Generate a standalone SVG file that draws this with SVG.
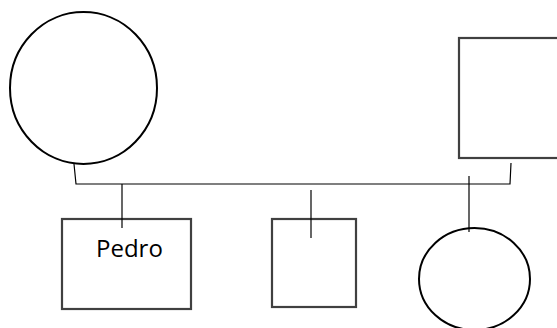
<svg xmlns="http://www.w3.org/2000/svg" width="557" height="328" viewBox="0 0 557 328">
  <style>
    .box { fill: #ffffff; stroke: #404040; stroke-width: 2.2; }
    .ring { fill: #ffffff; stroke: #000000; stroke-width: 2; }
    .link { fill: none; stroke: #000000; stroke-width: 1.2; }
    .label { font-family: "Open Sans", "Liberation Sans", sans-serif; font-size: 24px; fill: #000000; }
  </style>
  <rect width="557" height="328" fill="#ffffff"/>
  <g id="mother">
    <ellipse class="ring" cx="83.5" cy="88" rx="73.5" ry="76"/>
  </g>
  <g id="father">
    <rect class="box" x="459" y="38" width="110" height="120"/>
  </g>
  <g id="pedro">
    <rect class="box" x="62" y="219" width="129" height="90"/>
    <text class="label" x="96" y="257">Pedro</text>
  </g>
  <g id="sibling-square">
    <rect class="box" x="272" y="219" width="84" height="88"/>
  </g>
  <g id="sibling-circle">
    <ellipse class="ring" cx="474.5" cy="279" rx="55.5" ry="51"/>
  </g>
  <g id="connectors">
    <path class="link" d="M74 164 L76 184 L510 184 L511 163"/>
    <line class="link" x1="122" y1="184" x2="122" y2="228"/>
    <line class="link" x1="311" y1="190" x2="311" y2="238"/>
    <line class="link" x1="469" y1="176" x2="469" y2="232"/>
  </g>
</svg>
